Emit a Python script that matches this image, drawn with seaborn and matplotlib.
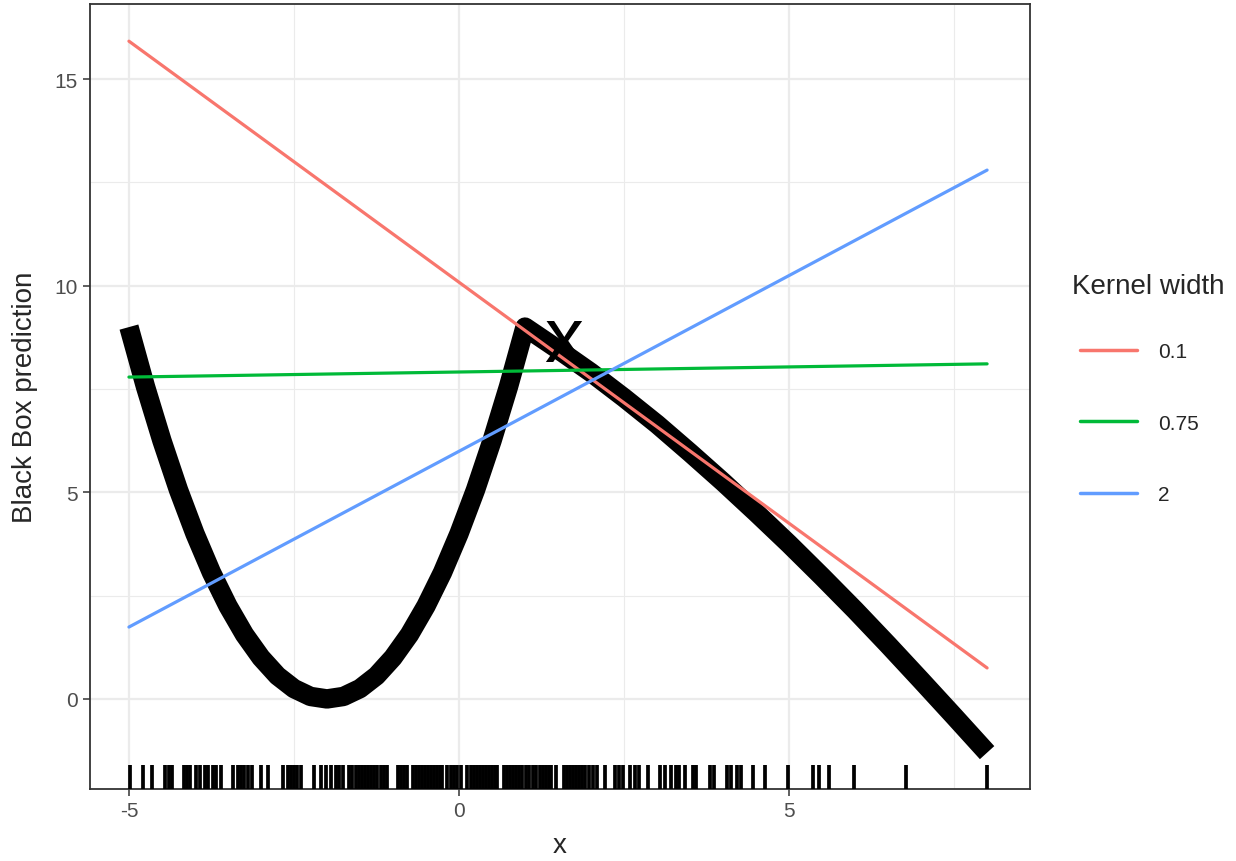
import numpy as np
import pandas as pd
import matplotlib
matplotlib.use("Agg")
import matplotlib.pyplot as plt
import seaborn as sns

# ---------------- data ----------------
bb_x = [-5.0, -4.75, -4.5, -4.25, -4.0, -3.75, -3.5, -3.25, -3.0, -2.75, -2.5, -2.25,
        -2.0, -1.75, -1.5, -1.25, -1.0, -0.75, -0.5, -0.25, 0.0, 0.25, 0.5, 0.75, 1.0,
        1.5, 2.0, 2.5, 3.0, 3.5, 4.0, 4.5, 5.0, 5.5, 6.0, 6.5, 7.0, 7.5, 8.0]
bb_y = [9.0, 7.56, 6.25, 5.06, 4.0, 3.06, 2.25, 1.56, 1.0, 0.56, 0.25, 0.06,
        0.0, 0.06, 0.25, 0.56, 1.0, 1.56, 2.25, 3.06, 4.0, 5.06, 6.25, 7.56, 9.0,
        8.46, 7.9, 7.29, 6.65, 5.96, 5.25, 4.51, 3.75, 2.96, 2.15, 1.31, 0.45, -0.42, -1.3]

kernel_widths = ["0.1", "0.75", "2"]
line_x = [-5.0, 8.0]
red_y = [15.92, 0.75]
green_y = [7.79, 8.11]
blue_y = [1.74, 12.80]

rug_x = [-4.98, -4.79, -4.65, -4.45, -4.39, -4.35, -4.17, -4.12, -4.08, -3.98, -3.92,
         -3.85, -3.80, -3.73, -3.68, -3.61, -3.42, -3.35, -3.30, -3.26, -3.20, -3.14,
         -3.00, -2.89, -2.67, -2.59, -2.55, -2.50, -2.45, -2.39, -2.20, -2.09, -2.02,
         -1.94, -1.86, -1.82, -1.76, -1.67, -1.62, -1.56, -1.52, -1.47, -1.42, -1.38,
         -1.33, -1.29, -1.24, -1.18, -1.14, -1.09, -0.92, -0.88, -0.83, -0.79, -0.70,
         -0.65, -0.61, -0.56, -0.52, -0.47, -0.42, -0.38, -0.33, -0.29, -0.26, -0.18,
         -0.12, -0.08, -0.03, 0.03, 0.12, 0.18, 0.23, 0.27, 0.32, 0.36, 0.41, 0.45,
         0.50, 0.55, 0.58, 0.68, 0.73, 0.77, 0.82, 0.86, 0.91, 0.95, 1.02, 1.06, 1.12,
         1.17, 1.23, 1.27, 1.32, 1.36, 1.39, 1.47, 1.59, 1.64, 1.68, 1.73, 1.77, 1.82,
         1.86, 1.91, 1.97, 2.03, 2.09, 2.21, 2.36, 2.42, 2.48, 2.59, 2.67, 2.73, 2.86,
         3.05, 3.12, 3.21, 3.29, 3.33, 3.42, 3.55, 3.59, 3.80, 3.86, 4.06, 4.12, 4.21,
         4.27, 4.45, 4.64, 4.98, 5.36, 5.45, 5.61, 5.98, 6.77, 8.00]

poi_x, poi_y = 1.58, 8.64

x_ticks = [-5, 0, 5]
y_ticks = [0, 5, 10, 15]
x_minor = [-2.5, 2.5, 7.5]
y_minor = [2.5, 7.5, 12.5]

palette = {"0.1": "#F8766D", "0.75": "#00BA38", "2": "#619CFF"}

# ---------------- figure ----------------
sns.set_theme(style="white")
plt.rcParams["font.family"] = ["Liberation Sans", "DejaVu Sans"]

W, H = 1236, 862
fig = plt.figure(figsize=(W / 100, H / 100), dpi=100)
ax = fig.add_axes([90 / W, (H - 790) / H, 940 / W, 785 / H])

df_lines = pd.DataFrame({
    "x": line_x * 3,
    "y": red_y + green_y + blue_y,
    "Kernel width": [kernel_widths[0]] * 2 + [kernel_widths[1]] * 2 + [kernel_widths[2]] * 2,
})
df_bb = pd.DataFrame({"x": bb_x, "y": bb_y})

sns.lineplot(data=df_bb, x="x", y="y", color="black", linewidth=14, ax=ax,
             solid_capstyle="butt", zorder=2)
sns.lineplot(data=df_lines, x="x", y="y", hue="Kernel width", hue_order=kernel_widths,
             palette=palette, linewidth=2.3, ax=ax, zorder=3)
sns.rugplot(x=rug_x, height=0.03, color="black", linewidth=2.7, ax=ax,
            expand_margins=False, zorder=4)

ax.annotate("x", xy=(poi_x, poi_y), xytext=(0, -14), textcoords="offset points",
            ha="center", va="baseline", fontsize=56, color="black", zorder=5)

ax.set_xlim(-5.59, 8.65)
ax.set_ylim(-2.18, 16.82)
ax.set_xticks(x_ticks)
ax.set_yticks(y_ticks)
ax.set_xticks(x_minor, minor=True)
ax.set_yticks(y_minor, minor=True)
ax.set_xticklabels([str(t) for t in x_ticks])
ax.set_yticklabels([str(t) for t in y_ticks])

ax.grid(which="major", color="#EBEBEB", linewidth=1.6)
ax.grid(which="minor", color="#EBEBEB", linewidth=0.8)
ax.set_axisbelow(True)

for s in ax.spines.values():
    s.set_color("#333333")
    s.set_linewidth(1.3)

ax.tick_params(which="major", length=5, width=1.1, color="#333333",
               labelsize=15, labelcolor="#4D4D4D", pad=4, bottom=True, left=True)
ax.tick_params(which="minor", length=0)

ax.set_xlabel("x", fontsize=20, va="center")
ax.xaxis.set_label_coords(0.5, (790 - 846) / 785)
ax.set_ylabel("Black Box prediction", fontsize=20, va="center")
ax.yaxis.set_label_coords((25 - 90) / 940, 0.5)

handles, labels = ax.get_legend_handles_labels()
if ax.get_legend() is not None:
    ax.get_legend().remove()
leg = fig.legend(handles, labels, loc="center left",
                 bbox_to_anchor=(1080 / W, 1 - 424 / H), frameon=False,
                 handlelength=2.75, labelspacing=2.52,
                 handletextpad=1.0, borderpad=0, borderaxespad=0, fontsize=15)
for h in leg.legend_handles:
    h.set_linewidth(2.5)

fig.text(1072 / W, 1 - 287 / H, "Kernel width", fontsize=20, ha="left", va="center")

fig.savefig("out.png", dpi=100)
